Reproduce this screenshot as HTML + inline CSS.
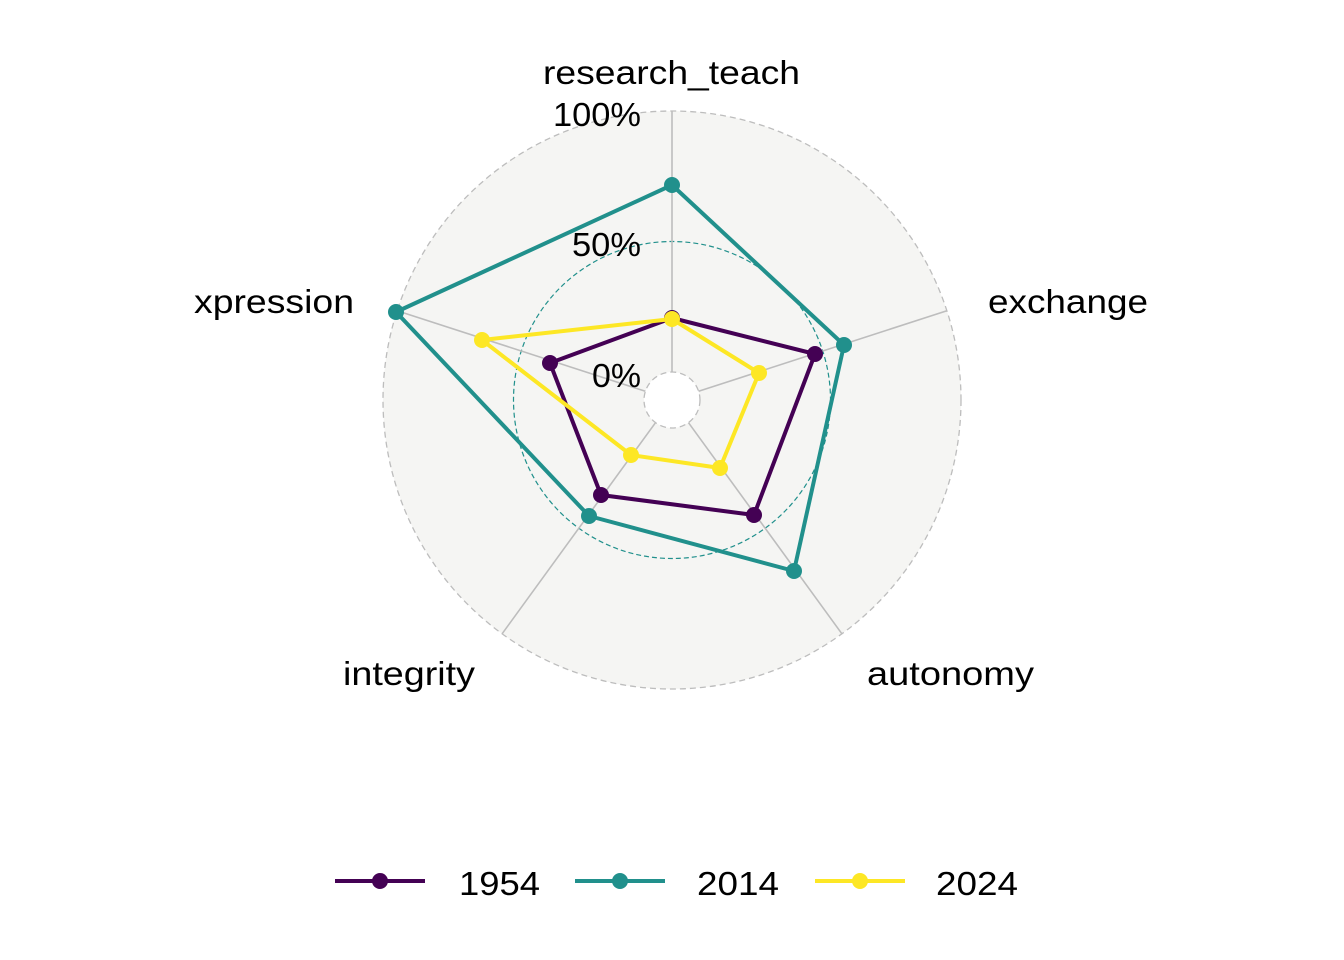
<!DOCTYPE html>
<html><head><meta charset="utf-8"><style>body{margin:0;background:#fff}svg{display:block}</style></head><body>
<svg width="1344" height="960" viewBox="0 0 1344 960" xmlns="http://www.w3.org/2000/svg" font-family="Liberation Sans, sans-serif">
<circle cx="672" cy="400" r="289" fill="#f5f5f3" stroke="#bdbdbd" stroke-width="1.3" stroke-dasharray="6,4"/>
<circle cx="672" cy="400" r="28" fill="#fff" stroke="#bdbdbd" stroke-width="1.3" stroke-dasharray="6,4"/>
<circle cx="672" cy="400" r="158.5" fill="none" stroke="#21908C" stroke-width="1.2" stroke-dasharray="5,3"/>
<g stroke="#bdbdbd" stroke-width="1.6">
<line x1="672" y1="372" x2="672" y2="111"/>
<line x1="698.6" y1="391.3" x2="946.9" y2="310.7"/>
<line x1="688.5" y1="422.7" x2="841.9" y2="633.8"/>
<line x1="655.5" y1="422.7" x2="502.1" y2="633.8"/>
<line x1="645.4" y1="391.3" x2="397.1" y2="310.7"/>
</g>
<g fill="#000" font-size="33" lengthAdjust="spacingAndGlyphs">
<text x="543" y="84" textLength="257" lengthAdjust="spacingAndGlyphs">research_teach</text>
<text x="988" y="313" textLength="160" lengthAdjust="spacingAndGlyphs">exchange</text>
<text x="194" y="313" textLength="160" lengthAdjust="spacingAndGlyphs">xpression</text>
<text x="343" y="685" textLength="132" lengthAdjust="spacingAndGlyphs">integrity</text>
<text x="867" y="685" textLength="167" lengthAdjust="spacingAndGlyphs">autonomy</text>
<text x="553" y="126" textLength="88" lengthAdjust="spacingAndGlyphs">100%</text>
<text x="572" y="256" textLength="69" lengthAdjust="spacingAndGlyphs">50%</text>
<text x="592" y="387" textLength="49" lengthAdjust="spacingAndGlyphs">0%</text>
</g>
<g stroke-width="4" fill="none" stroke-linejoin="round">
<polygon points="672,318 815,354 754,515 601,495 550,363" stroke="#440154"/>
<polygon points="672,185 844,345 794,571 589,516 396,312" stroke="#21908C"/>
<polygon points="672,319 759,373 720,468 631,455 482,340" stroke="#FDE725"/>
</g>
<g fill="#440154"><circle cx="672" cy="318" r="8"/><circle cx="815" cy="354" r="8"/><circle cx="754" cy="515" r="8"/><circle cx="601" cy="495" r="8"/><circle cx="550" cy="363" r="8"/></g>
<g fill="#21908C"><circle cx="672" cy="185" r="8"/><circle cx="844" cy="345" r="8"/><circle cx="794" cy="571" r="8"/><circle cx="589" cy="516" r="8"/><circle cx="396" cy="312" r="8"/></g>
<g fill="#FDE725"><circle cx="672" cy="319" r="8"/><circle cx="759" cy="373" r="8"/><circle cx="720" cy="468" r="8"/><circle cx="631" cy="455" r="8"/><circle cx="482" cy="340" r="8"/></g>
<g stroke-width="4">
<line x1="335" y1="881" x2="425" y2="881" stroke="#440154"/>
<line x1="575" y1="881" x2="665" y2="881" stroke="#21908C"/>
<line x1="815" y1="881" x2="905" y2="881" stroke="#FDE725"/>
</g>
<circle cx="380" cy="881" r="8" fill="#440154"/><circle cx="620" cy="881" r="8" fill="#21908C"/><circle cx="860" cy="881" r="8" fill="#FDE725"/>
<g font-size="33" fill="#000"><text x="459" y="895" textLength="81" lengthAdjust="spacingAndGlyphs">1954</text><text x="697" y="895" textLength="82" lengthAdjust="spacingAndGlyphs">2014</text><text x="936" y="895" textLength="82" lengthAdjust="spacingAndGlyphs">2024</text></g>
</svg>
</body></html>
